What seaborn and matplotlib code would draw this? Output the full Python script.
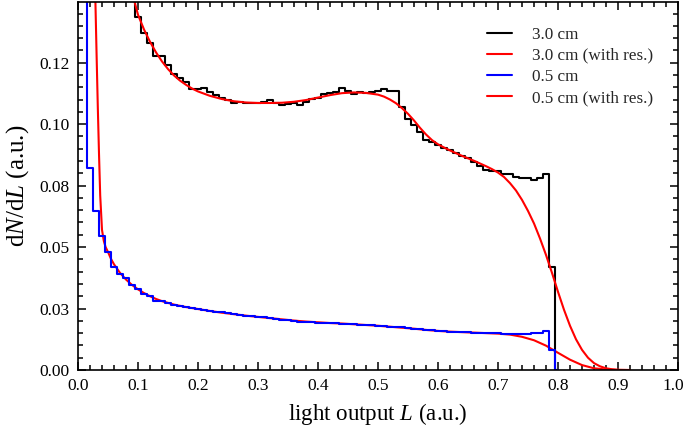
import numpy as np
import pandas as pd
import matplotlib
matplotlib.use("Agg")
import matplotlib.pyplot as plt
from matplotlib.ticker import FixedLocator, FixedFormatter, MultipleLocator
from matplotlib.transforms import ScaledTranslation
import seaborn as sns

# ---------------- data ----------------
# 3.0 cm histogram (bin centres, bin width 0.01)
hist30_L = [0.09, 0.10, 0.11, 0.12, 0.13, 0.14, 0.15, 0.16, 0.17, 0.18, 0.19,
            0.20, 0.21, 0.22, 0.23, 0.24, 0.25, 0.26, 0.27, 0.28, 0.29,
            0.30, 0.31, 0.32, 0.33, 0.34, 0.35, 0.36, 0.37, 0.38, 0.39,
            0.40, 0.41, 0.42, 0.43, 0.44, 0.45, 0.46, 0.47, 0.48, 0.49,
            0.50, 0.51, 0.52, 0.53, 0.54, 0.55, 0.56, 0.57, 0.58, 0.59,
            0.60, 0.61, 0.62, 0.63, 0.64, 0.65, 0.66, 0.67, 0.68, 0.69,
            0.70, 0.71, 0.72, 0.73, 0.74, 0.75, 0.76, 0.77, 0.78, 0.79, 0.80]
hist30_v = [0.155, 0.1436, 0.1371, 0.1330, 0.1276, 0.1276, 0.1242, 0.1205, 0.1188, 0.1170, 0.1143,
            0.1143, 0.1148, 0.1130, 0.1120, 0.1106, 0.1099, 0.1086, 0.1091, 0.1086, 0.1088,
            0.1088, 0.1091, 0.1099, 0.1088, 0.1078, 0.1082, 0.1086, 0.1079, 0.1090, 0.1103,
            0.1106, 0.1123, 0.1127, 0.1129, 0.1147, 0.1133, 0.1124, 0.1129, 0.1127, 0.1129,
            0.1136, 0.1143, 0.1136, 0.1136, 0.1071, 0.1020, 0.0998, 0.0970, 0.0936, 0.0926,
            0.0916, 0.0903, 0.0896, 0.0882, 0.0871, 0.0862, 0.0848, 0.0830, 0.0815, 0.0811,
            0.0808, 0.0798, 0.0798, 0.0783, 0.0779, 0.0779, 0.0771, 0.0781, 0.0797, 0.0417, 0.0]

# 3.0 cm with resolution (smooth curve)
res30_L = [0.094, 0.10, 0.11, 0.12, 0.13, 0.14, 0.15, 0.16, 0.17, 0.18, 0.19, 0.20,
           0.22, 0.24, 0.26, 0.28, 0.30, 0.32, 0.34, 0.36, 0.38, 0.40, 0.42, 0.44,
           0.46, 0.48, 0.50, 0.51, 0.52, 0.53, 0.54, 0.55, 0.56, 0.57, 0.58, 0.59,
           0.60, 0.61, 0.62, 0.63, 0.64, 0.65, 0.66, 0.67, 0.68, 0.69, 0.70, 0.71,
           0.72, 0.73, 0.74, 0.75, 0.76, 0.77, 0.78, 0.79, 0.80, 0.81, 0.82, 0.83,
           0.84, 0.85, 0.86, 0.87, 0.88, 0.89, 0.90, 0.92]
res30_v = [0.150, 0.1445, 0.1385, 0.1335, 0.1292, 0.1255, 0.1224, 0.1198, 0.1177, 0.1160, 0.1145, 0.1133,
           0.1115, 0.1102, 0.1093, 0.1088, 0.1086, 0.1086, 0.1087, 0.1091, 0.1098, 0.1108, 0.1118, 0.1126,
           0.1129, 0.1127, 0.1120, 0.1112, 0.1100, 0.1085, 0.1065, 0.1042, 0.1015, 0.0985, 0.0958, 0.0935,
           0.0918, 0.0905, 0.0893, 0.0882, 0.0871, 0.0861, 0.0851, 0.0840, 0.0829, 0.0817, 0.0803, 0.0785,
           0.0760, 0.0730, 0.0692, 0.0647, 0.0596, 0.0535, 0.0468, 0.0395, 0.0318, 0.0245, 0.0180, 0.0125,
           0.0082, 0.0050, 0.0028, 0.0015, 0.0007, 0.0003, 0.0001, 0.0]

# 0.5 cm histogram (bin centres, bin width 0.01)
hist05_L = [0.01, 0.02, 0.03, 0.04, 0.05, 0.06, 0.07, 0.08, 0.09,
            0.10, 0.11, 0.12, 0.13, 0.14, 0.15, 0.16, 0.17, 0.18, 0.19,
            0.20, 0.21, 0.22, 0.23, 0.24, 0.25, 0.26, 0.27, 0.28, 0.29,
            0.30, 0.31, 0.32, 0.33, 0.34, 0.35, 0.36, 0.37, 0.38, 0.39,
            0.40, 0.41, 0.42, 0.43, 0.44, 0.45, 0.46, 0.47, 0.48, 0.49,
            0.50, 0.51, 0.52, 0.53, 0.54, 0.55, 0.56, 0.57, 0.58, 0.59,
            0.60, 0.61, 0.62, 0.63, 0.64, 0.65, 0.66, 0.67, 0.68, 0.69,
            0.70, 0.71, 0.72, 0.73, 0.74, 0.75, 0.76, 0.77, 0.78, 0.79, 0.80]
hist05_v = [0.160, 0.0822, 0.0645, 0.0546, 0.0478, 0.0417, 0.0389, 0.0373, 0.0344,
            0.0330, 0.0308, 0.0300, 0.0280, 0.0280, 0.0272, 0.0266, 0.0262, 0.0256, 0.0252,
            0.0248, 0.0244, 0.0239, 0.0236, 0.0234, 0.0231, 0.0228, 0.0225, 0.0221, 0.0218,
            0.0217, 0.0214, 0.0211, 0.0208, 0.0205, 0.0203, 0.0199, 0.0196, 0.0194, 0.0196,
            0.0193, 0.0192, 0.0191, 0.0190, 0.0189, 0.0187, 0.0186, 0.0185, 0.0183, 0.0182,
            0.0180, 0.0178, 0.0176, 0.0175, 0.0173, 0.0170, 0.0168, 0.0165, 0.0163, 0.0161,
            0.0159, 0.0157, 0.0156, 0.0155, 0.0154, 0.0153, 0.0152, 0.0151, 0.0150, 0.0149,
            0.0149, 0.0148, 0.0148, 0.0147, 0.0145, 0.0145, 0.0150, 0.0152, 0.0157, 0.0080, 0.0]

# 0.5 cm with resolution (smooth curve)
res05_L = [0.028, 0.029, 0.031, 0.033, 0.035, 0.037, 0.040, 0.043, 0.046, 0.050, 0.055,
           0.060, 0.070, 0.080, 0.090, 0.100, 0.110, 0.120, 0.130, 0.140, 0.150, 0.160,
           0.180, 0.200, 0.220, 0.240, 0.260, 0.280, 0.300, 0.320, 0.340, 0.360, 0.380,
           0.400, 0.420, 0.440, 0.460, 0.480, 0.500, 0.520, 0.540, 0.560, 0.580, 0.600,
           0.620, 0.640, 0.660, 0.680, 0.700, 0.720, 0.740, 0.760, 0.780, 0.800, 0.820,
           0.840, 0.860, 0.880, 0.900]
res05_v = [0.160, 0.150, 0.128, 0.107, 0.088, 0.071, 0.057, 0.0525, 0.0500, 0.0480, 0.0452,
           0.0430, 0.0395, 0.0368, 0.0346, 0.0328, 0.0313, 0.0300, 0.0289, 0.0280, 0.0273, 0.0266,
           0.0256, 0.0248, 0.0240, 0.0233, 0.0227, 0.0221, 0.0216, 0.0211, 0.0206, 0.0201, 0.0197,
           0.0194, 0.0191, 0.0189, 0.0186, 0.0183, 0.0180, 0.0176, 0.0172, 0.0168, 0.0163, 0.0159,
           0.0156, 0.0154, 0.0152, 0.0150, 0.0148, 0.0144, 0.0135, 0.0121, 0.0099, 0.0070, 0.0042,
           0.0020, 0.0007, 0.0002, 0.0]

series_labels = ["3.0 cm", "3.0 cm (with res.)", "0.5 cm", "0.5 cm (with res.)"]
y_ticks = [0.0, 0.025, 0.05, 0.075, 0.10, 0.125]
y_tick_labels = ["0.00", "0.03", "0.05", "0.08", "0.10", "0.12"]
x_ticks = [0.0, 0.1, 0.2, 0.3, 0.4, 0.5, 0.6, 0.7, 0.8, 0.9, 1.0]
x_tick_labels = ["0.0", "0.1", "0.2", "0.3", "0.4", "0.5", "0.6", "0.7", "0.8", "0.9", "1.0"]

# ---------------- style ----------------
sns.set_theme(style="ticks")
plt.rcParams["font.family"] = ["Liberation Serif", "DejaVu Serif"]
plt.rcParams["mathtext.fontset"] = "custom"
plt.rcParams["mathtext.rm"] = "Liberation Serif"
plt.rcParams["mathtext.it"] = "Liberation Serif:italic"
plt.rcParams["axes.linewidth"] = 1.2

fig = plt.figure(figsize=(6.85, 4.30), dpi=100)
ax = fig.add_axes([78 / 685, (430 - 370) / 430, 600 / 685, 368.3 / 430])

lw = 1.5
sns.lineplot(x=hist30_L, y=hist30_v, ax=ax, color="black", lw=lw,
             drawstyle="steps-mid", label=series_labels[0], zorder=2.0)
sns.lineplot(x=res30_L, y=res30_v, ax=ax, color="#ff0000", lw=lw,
             label=series_labels[1], zorder=2.1)
sns.lineplot(x=hist05_L, y=hist05_v, ax=ax, color="#0000ff", lw=lw,
             drawstyle="steps-mid", label=series_labels[2], zorder=2.3)
sns.lineplot(x=res05_L, y=res05_v, ax=ax, color="#ff0000", lw=lw,
             label=series_labels[3], zorder=2.2)

ax.set_xlim(0, 1.0)
ax.set_ylim(0, 0.1498)

ax.xaxis.set_major_locator(FixedLocator(x_ticks))
ax.xaxis.set_major_formatter(FixedFormatter(x_tick_labels))
ax.xaxis.set_minor_locator(MultipleLocator(0.02))
ax.yaxis.set_major_locator(FixedLocator(y_ticks))
ax.yaxis.set_major_formatter(FixedFormatter(y_tick_labels))
ax.yaxis.set_minor_locator(MultipleLocator(0.005))

ax.tick_params(which="both", direction="in", top=True, right=True,
               labelsize=12.5, color="black", labelcolor="black", width=1.1)
ax.tick_params(which="major", length=6, pad=6)
ax.tick_params(which="minor", length=3.5)
for s in ax.spines.values():
    s.set_visible(True)
    s.set_color("black")
    s.set_zorder(3)

ax.set_xlabel(r"light output $L$ (a.u.)", fontsize=16.5, labelpad=5, color="black")
ax.set_ylabel(r"d$N$/d$L$ (a.u.)", fontsize=18, labelpad=6, color="black")

leg = ax.legend(loc="upper left", bbox_to_anchor=(0.682, 0.932), frameon=False,
                fontsize=12.3, handlelength=1.45, handletextpad=1.15,
                labelspacing=0.3, borderaxespad=0, borderpad=0)
for line in leg.get_lines():
    line.set_linewidth(1.5)

# nudge the last x tick label so it stays inside the canvas
last_lab = ax.xaxis.get_major_ticks()[-1].label1
last_lab.set_transform(last_lab.get_transform() +
                       ScaledTranslation(-0.045, 0, fig.dpi_scale_trans))

fig.savefig("out.png", dpi=100)
